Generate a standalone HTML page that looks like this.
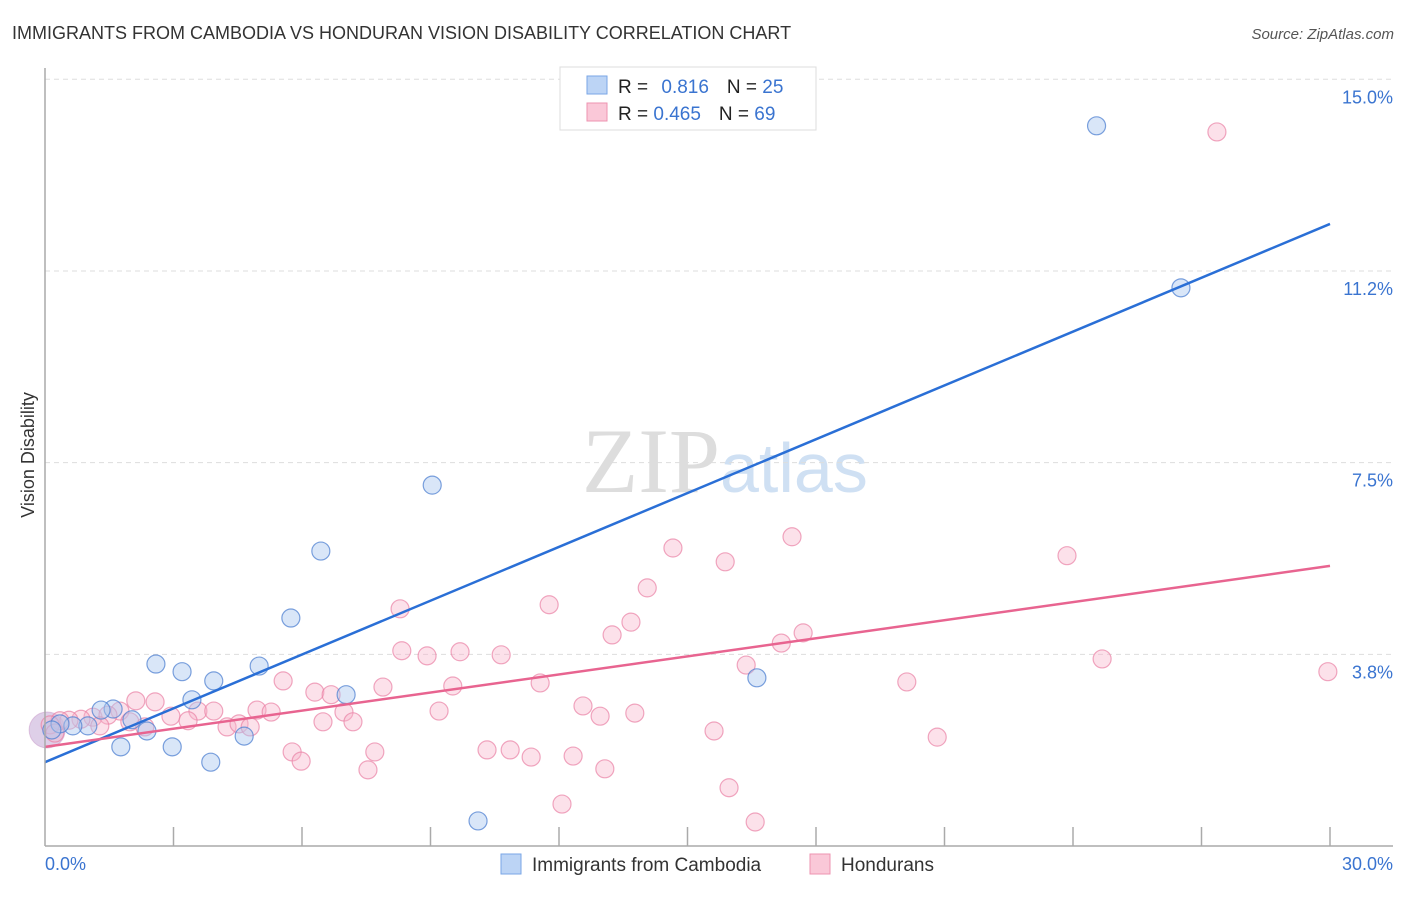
<!DOCTYPE html>
<html><head><meta charset="utf-8"><style>
body{margin:0;background:#fff;font-family:"Liberation Sans",sans-serif}
</style></head><body>
<svg id="c" width="1406" height="892" xmlns="http://www.w3.org/2000/svg" style="font-family:'Liberation Sans',sans-serif">
<text x="12" y="39" font-size="18" fill="#333">IMMIGRANTS FROM CAMBODIA VS HONDURAN VISION DISABILITY CORRELATION CHART</text>
<text x="1394" y="39" font-size="15" fill="#555" font-style="italic" text-anchor="end">Source: ZipAtlas.com</text>
<text x="720" y="492" font-size="92" fill="#ddd" text-anchor="end" font-family="Liberation Serif">ZIP</text>
<text x="720" y="492" font-size="70" fill="#cfe0f3">atlas</text>
<text transform="translate(34,455) rotate(-90)" font-size="18" fill="#333" text-anchor="middle">Vision Disability</text>
<g id="grid"></g><g id="pts"></g><g id="lines"></g>
<line x1="45" y1="68" x2="45" y2="846" stroke="#aaa" stroke-width="1.5"/>
<line x1="45" y1="846" x2="1393" y2="846" stroke="#aaa" stroke-width="1.5"/>
<g id="xt"></g>
<text x="45" y="870" font-size="18" fill="#3a74d0">0.0%</text>
<text x="1393" y="870" font-size="18" fill="#3a74d0" text-anchor="end">30.0%</text>
<g>
<rect x="560" y="67" width="256" height="63" fill="#fff" stroke="#ddd"/>
<rect x="587" y="76" width="20" height="18" fill="#bcd4f5" stroke="#7aa6e6"/>
<rect x="587" y="103" width="20" height="18" fill="#fac8d8" stroke="#ee93b0"/>
<text x="618" y="93" font-size="19" fill="#222">R = <tspan fill="#3a74d0" dx="8">0.816</tspan><tspan dx="18" fill="#222">N = </tspan><tspan fill="#3a74d0">25</tspan></text>
<text x="618" y="120" font-size="19" fill="#222">R = <tspan fill="#3a74d0">0.465</tspan><tspan dx="18" fill="#222">N = </tspan><tspan fill="#3a74d0">69</tspan></text>
</g>
<g>
<rect x="501" y="854" width="20" height="20" fill="#bcd4f5" stroke="#7aa6e6"/>
<text x="532" y="871" font-size="19" fill="#333">Immigrants from Cambodia</text>
<rect x="810" y="854" width="20" height="20" fill="#fac8d8" stroke="#ee93b0"/>
<text x="841" y="871" font-size="19" fill="#333">Hondurans</text>
</g>
</svg>
<script>
const yTicks=[3.75,7.5,11.25,15];
const yTickLabels=["3.8%","7.5%","11.2%","15.0%"];
const blueX=[24.55,26.52,9.04,6.44,5.74,2.59,3.20,3.94,5.00,7.03,3.43,1.59,1.31,2.03,2.38,4.65,1.00,0.65,0.35,1.77,2.97,3.87,16.62,10.11,0.16];
const blueY=[14.09,10.92,7.06,5.77,4.46,3.56,3.41,3.23,3.52,2.96,2.86,2.68,2.66,2.47,2.25,2.15,2.35,2.35,2.39,1.94,1.94,1.64,3.29,0.49,2.27];
const pinkX=[27.36,17.44,14.66,15.88,23.86,14.06,11.77,8.29,13.68,13.24,17.70,17.19,8.33,8.92,9.69,10.65,24.68,29.95,16.37,5.56,6.30,6.68,7.89,9.52,11.56,20.12,2.12,2.57,4.95,5.28,3.57,3.94,12.56,12.96,13.77,9.20,6.98,2.94,3.34,4.25,4.53,4.79,6.49,7.19,1.75,1.12,0.84,0.56,0.35,1.98,15.62,20.83,5.77,5.98,7.70,10.32,10.86,11.35,12.33,7.54,13.07,15.97,12.07,16.58,1.47,0.12,0.23,2.33,1.28];
const pinkY=[13.97,6.05,5.83,5.56,5.68,5.05,4.72,4.64,4.38,4.13,4.17,3.97,3.82,3.72,3.80,3.74,3.66,3.41,3.54,3.23,3.01,2.96,3.11,3.13,3.19,3.21,2.84,2.82,2.66,2.62,2.64,2.64,2.74,2.54,2.60,2.64,2.62,2.54,2.45,2.33,2.39,2.33,2.43,2.43,2.64,2.52,2.48,2.46,2.45,2.43,2.25,2.13,1.84,1.66,1.84,1.88,1.88,1.74,1.76,1.49,1.51,1.14,0.82,0.47,2.56,2.37,2.21,2.33,2.35];
const blueLine=[1.64,12.17];
const pinkLine=[1.94,5.48];
const NS="http://www.w3.org/2000/svg";
const X=v=>45+v*1285/30, Y=v=>846-v*766.7/15;
function mk(t,a,p){const e=document.createElementNS(NS,t);for(const k in a)e.setAttribute(k,a[k]);document.getElementById(p).appendChild(e);return e;}
yTicks.forEach((t,i)=>{
 const l=mk('line',{x1:45,x2:1393,y1:Y(t),y2:Y(t),stroke:'#ddd','stroke-dasharray':'5,4'},'grid');
 
 
 const tx=mk('text',{x:1393,y:Y(t)+24,'font-size':18,fill:'#3a74d0','text-anchor':'end'},'grid');
 tx.textContent=yTickLabels[i];
 
 
});
for(let i=1;i<=10;i++){
 const l=mk('line',{x1:X(i*3),x2:X(i*3),y1:827,y2:846,stroke:'#aaa','stroke-width':1.5},'xt');
 
 
}
const big=mk('circle',{cx:X(0.05),cy:Y(2.27),r:18,fill:'rgba(190,160,210,0.5)',stroke:'rgba(200,150,200,0.5)'},'pts');


pinkX.forEach((x,i)=>{
 const c=mk('circle',{cx:X(x),cy:Y(pinkY[i]),r:9,fill:'rgba(248,180,202,0.4)',stroke:'rgba(234,130,165,0.7)','stroke-width':1.2},'pts');
 
 
});
blueX.forEach((x,i)=>{
 const c=mk('circle',{cx:X(x),cy:Y(blueY[i]),r:9,fill:'rgba(170,200,240,0.45)',stroke:'rgba(80,130,210,0.75)','stroke-width':1.2},'pts');
 
 
});
const bl=mk('line',{x1:X(0),x2:X(30),y1:Y(blueLine[0]),y2:Y(blueLine[1]),stroke:'#2a6fd6','stroke-width':2.5},'lines');


const pl=mk('line',{x1:X(0),x2:X(30),y1:Y(pinkLine[0]),y2:Y(pinkLine[1]),stroke:'#e86490','stroke-width':2.5},'lines');


</script>
</body></html>
